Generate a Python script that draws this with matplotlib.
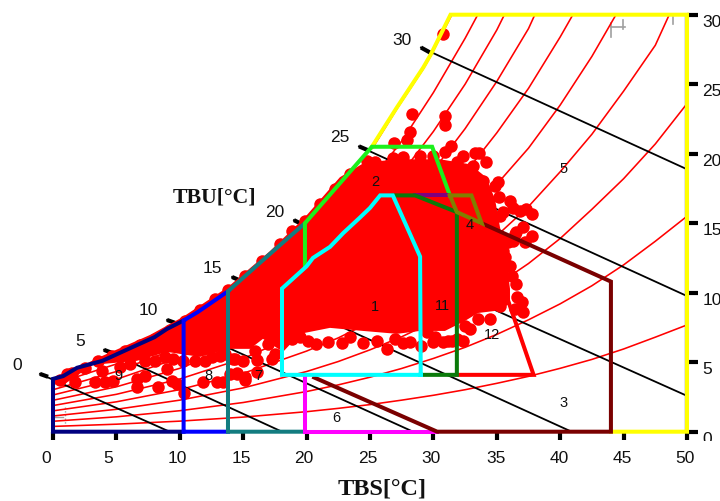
import matplotlib
matplotlib.use("Agg")
import matplotlib.pyplot as plt
from matplotlib.patches import Polygon
from matplotlib.transforms import ScaledTranslation, Bbox

plt.rcParams['font.family'] = ['Liberation Sans', 'DejaVu Sans']

# ---- humidity curves: dry-bulb temperature -> humidity ratio
t_grid = [0, 5, 10, 15, 20, 22.5, 25, 27.5, 30, 32.5, 35, 37.5, 40, 42.5, 45, 47.5, 50]
rh10 = [.38, .54, .76, 1.05, 1.44, 1.68, 1.95, 2.27, 2.62, 3.02, 3.48, 3.98, 4.56, 5.2, 5.95, 6.8, 7.68]
rh20 = [.75, 1.07, 1.51, 2.1, 2.89, 3.37, 3.92, 4.55, 5.27, 6.07, 7.0, 8.05, 9.2, 10.5, 12.0, 13.7, 15.5]
rh30 = [1.13, 1.61, 2.27, 3.15, 4.33, 5.05, 5.89, 6.83, 7.92, 9.15, 10.55, 12.1, 13.9, 16.0, 18.2, 20.7, 23.6]
rh40_t = [0, 5, 10, 15, 20, 22.5, 25, 27.5, 30, 32.5, 35, 37.5, 40, 42.5, 45, 47.5, 48.6]
rh40 = [1.5, 2.15, 3.03, 4.2, 5.8, 6.75, 7.88, 9.15, 10.6, 12.2, 14.1, 16.2, 18.7, 21.4, 24.5, 27.8, 30]
rh50_t = [0, 5, 10, 15, 20, 22.5, 25, 27.5, 30, 32.5, 35, 37.5, 40, 42.5, 44.4]
rh50 = [1.88, 2.69, 3.79, 5.27, 7.27, 8.47, 9.88, 11.45, 13.3, 15.4, 17.8, 20.4, 23.5, 27.0, 30]
rh60_t = [0, 5, 10, 15, 20, 22.5, 25, 27.5, 30, 32.5, 35, 37.5, 40, 41]
rh60 = [2.26, 3.23, 4.56, 6.35, 8.75, 10.2, 11.9, 13.8, 16.1, 18.6, 21.5, 24.7, 28.4, 30]
rh70_t = [0, 5, 10, 15, 20, 22.5, 25, 27.5, 30, 32.5, 35, 37.5, 38]
rh70 = [2.64, 3.77, 5.33, 7.41, 10.2, 11.9, 13.9, 16.2, 18.8, 21.8, 25.2, 29, 30]
rh80_t = [0, 5, 10, 15, 20, 22.5, 25, 27.5, 30, 32.5, 35, 35.6]
rh80 = [3.02, 4.33, 6.08, 8.49, 11.7, 13.7, 16.0, 18.6, 21.6, 25.0, 28.9, 30]
rh90_t = [0, 5, 10, 15, 20, 22.5, 25, 27.5, 30, 32.5, 33.5]
rh90 = [3.4, 4.87, 6.86, 9.56, 13.2, 15.4, 18.0, 20.9, 24.4, 28.3, 30]
sat_t = [25.2, 27.1, 29.2, 29.8, 31.4]
sat_w = [20.4, 23.2, 26.1, 27.05, 29.9]

# ---- wet-bulb lines: label, start, end of thick tick, end
wb_labels = [0, 5, 10, 15, 20, 25, 30]
wb_start_x = [-1.03, 4.02, 8.99, 14.12, 19.0, 24.13, 29.02]
wb_start_y = [4.16, 5.89, 8.04, 11.13, 15.22, 20.53, 27.64]
wb_tick_x = [-0.39, 4.65, 9.62, 14.67, 19.63, 24.84, 29.73]
wb_tick_y = [3.95, 5.67, 7.83, 10.91, 14.93, 20.25, 27.28]
wb_end_x = [9.2, 18.06, 28.4, 40.9, 50, 50, 50]
wb_end_y = [0, 0, 0, 0, 2.58, 9.76, 18.88]
wb_label_x = [-2.84, 2.13, 7.49, 12.54, 17.5, 22.63, 27.52]
wb_label_y = [4.81, 6.53, 8.76, 11.84, 15.86, 21.25, 28.2]

# ---- hourly observations
mass_x = [0, 3.71, 7.65, 10.25, 13.8, 17.11, 19.87, 22.63, 24.6, 27.36, 30.52, 32.88, 34.15, 34.86, 35.25, 35.72,
          36.04, 36.04, 34.86, 33.52, 32.49, 30.91, 28.94, 27.13, 24.45, 21.84, 19.48, 18.14, 16.56, 15.54, 13.8,
          11.59, 8.99, 6.62, 3.15, 0.95]
mass_y = [3.73, 5.38, 6.96, 8.26, 10.41, 12.99, 15.43, 18.31, 19.38, 19.6, 19.6, 19.24, 18.31, 16.73, 14.72, 12.78,
          10.27, 9.19, 8.69, 8.54, 7.97, 7.25, 7.25, 7.04, 7.25, 7.47, 7.04, 5.74, 6.68, 5.96, 5.96,
          5.38, 5.74, 5.1, 4.81, 3.45]
obs_x = [30.76, 28.31, 30.91, 30.91, 28.15, 27.92, 26.89, 31.39, 30.91, 29.97, 33.28, 33.59, 34.15, 32.33, 28.94,
         35.09, 34.86, 35.17, 36.04, 36.28, 36.83, 37.3, 37.77, 33.91, 33.12, 31.86, 37.06, 36.51, 37.77, 37.22,
         35.88, 35.25, 35.49, 36.43, 36.28, 35.49, 35.49, 35.64, 36.04, 36.2, 36.51, 36.59, 36.99, 37.06, 36.43,
         35.25, 34.46, 33.52, 32.49, 31.86, 31.15, 29.97, 29.49, 32.33, 31.47, 30.75, 29.02, 28.15, 27.6, 26.34,
         25.55, 24.45, 22.79, 21.69, 20.74, 20.11, 17.27, 16.09, 14.35, 14.51, 15.14, 16.09, 15.14, 14.51, 13.96,
         13.41, 12.93, 11.83, 10.33, 9.78, 9.38, 8.99, 8.28, 7.25, 6.62, 6.62, 4.73, 4.1, 3.31, 3.86, 1.73, 1.1,
         8.04, 7.25, 9.46, 10.25, 11.2, 12.54, 13.17, 14.19, 14.98,
         0.55, 1.5, 2.52, 3.55, 4.65, 5.68, 6.86, 8.04, 9.23, 10.41, 11.59, 12.78, 13.8, 15.14, 16.48, 17.9, 18.85,
         19.87, 21.06, 22.24, 23.42, 24.76, 25.39, 26.81, 27.6,
         5.28, 6.07, 8.83, 11.99, 13.56, 18.85, 19.48, 23.42, 26.97, 30.12, 32.88, 15.93, 16.96, 17.5]
obs_y = [28.64, 22.83, 22.69, 22.04, 21.54, 20.96, 20.75, 20.53, 20.1, 19.81, 20.03, 20.03, 19.38, 19.81, 19.81,
         17.95, 17.66, 16.87, 16.58, 16.08, 15.87, 16.01, 15.65, 18.02, 19.1, 19.38, 14.72, 14.36, 14.07, 13.64,
         13.64, 15.51, 15.79, 14.21, 13.71, 13.86, 12.99, 12.56, 11.92, 11.2, 10.63, 9.69, 9.33, 8.61, 8.83,
         9.05, 8.11, 8.11, 7.61, 6.68, 6.53, 6.46, 7.18, 6.53, 6.53, 6.46, 6.17, 6.46, 6.39, 5.96,
         6.53, 6.39, 6.39, 6.46, 6.32, 6.53, 5.24, 5.17, 5.24, 4.16, 3.95, 4.31, 3.73, 4.24, 4.16,
         3.59, 3.59, 3.59, 2.8, 3.45, 3.66, 4.52, 3.23, 4.02, 3.8, 3.23, 3.66, 3.59, 3.59, 4.38, 3.59, 4.16,
         5.1, 5.1, 5.24, 5.1, 5.1, 5.38, 5.46, 5.24, 5.1,
         3.73, 4.24, 4.59, 5.1, 5.46, 5.82, 6.25, 6.68, 7.32, 7.97, 8.76, 9.55, 10.19, 11.2, 12.28, 13.5, 14.43,
         15.15, 16.37, 17.45, 18.52, 19.46, 19.38, 19.67, 19.74,
         4.67, 4.88, 5.38, 5.1, 5.6, 6.68, 6.82, 6.82, 6.68, 6.82, 7.39, 5.82, 6.32, 5.6]

# ---- zone outlines
z5_x = [44, 50, 50, 31.35, 29.8, 29.2, 27.1, 25.15]
z5_y = [0, 0, 30, 30, 27.15, 26.2, 23.3, 20.5]
z9_x = [10.3, 0, 0, 0.8, 1.9, 3.9, 6.3, 8.0, 9.0, 10.3]
z9_y = [0, 0, 3.8, 4.0, 4.6, 5.1, 6.1, 6.8, 7.4, 8.0]
z8_x = [13.8, 10.3, 10.3, 11.4, 13.8]
z8_y = [0, 0, 8.0, 8.6, 10.1]
z7_x = [19.87, 13.8, 13.8, 17.0, 19.87]
z7_y = [0, 0, 10.1, 12.7, 15.0]
z6_x = [30.3, 19.87, 19.87]
z6_y = [0, 0, 4.0]
z3_x = [20.6, 30.3, 44, 44, 33.8]
z3_y = [3.9, 0, 0, 10.8, 15.0]
z2_x = [19.87, 19.87, 25.15, 29.9, 31.3]
z2_y = [11.9, 15.0, 20.5, 20.5, 17.0]
z12_x = [31.85, 37.9, 33.8]
z12_y = [4.09, 4.09, 15.0]
z11_x = [29.0, 31.85, 31.85, 28.55, 26.8]
z11_y = [4.09, 4.09, 15.8, 17.0, 17.0]
z4a_x = [28.55, 31.3]
z4a_y = [17.0, 17.0]
z4b_x = [31.3, 33.0, 33.8, 31.85, 31.3]
z4b_y = [17.0, 17.0, 15.0, 15.8, 17.0]
z1_x = [29.0, 18.06, 18.06, 20.0, 20.5, 21.85, 22.9, 24.2, 25.0, 25.8, 26.8, 28.95, 29.0]
z1_y = [4.09, 4.09, 10.3, 11.9, 12.5, 13.3, 14.3, 15.4, 16.1, 17.0, 17.0, 12.6, 4.09]

zone_labels = ['1', '11', '12', '2', '4', '5', '3', '6', '7', '8', '9']
zone_lx = [25.39, 30.68, 34.62, 25.39, 32.89, 40.3, 40.3, 22.32, 16.17, 12.22, 5.2]
zone_ly = [9.05, 9.12, 7.04, 18.02, 14.93, 18.95, 2.15, 1.08, 4.09, 4.09, 4.09]

xticks = [0, 5, 10, 15, 20, 25, 30, 35, 40, 45, 50]
yticks = [0, 5, 10, 15, 20, 25, 30]

# ---- faint grey remnants
grey_a_x = [44.0, 44.0]; grey_a_y = [29.4, 28.4]
grey_b_x = [44.0, 45.1]; grey_b_y = [29.1, 29.1]
grey_c_x = [44.95, 44.95]; grey_c_y = [29.65, 28.96]
grey_d_x = [48.9, 48.9]; grey_d_y = [29.8, 29.3]
grey_e_x = [0.95, 0.95]; grey_e_y = [1.8, 0.57]
grey_f_x = [0.16, 0.79]; grey_f_y = [1.08, 1.08]

W, H = 720, 502
fig = plt.figure(figsize=(W / 100, H / 100), dpi=100)
ax = fig.add_axes([53 / W, (H - 432.7) / H, 634 / W, 417 / H])
ax.set_xlim(0, 50)
ax.set_ylim(0, 30)
for s in ax.spines.values():
    s.set_visible(False)

# thin curves
for tx, wy in [(t_grid, rh10), (t_grid, rh20), (t_grid, rh30), (rh40_t, rh40), (rh50_t, rh50),
               (rh60_t, rh60), (rh70_t, rh70), (rh80_t, rh80), (rh90_t, rh90), (sat_t, sat_w)]:
    ax.plot(tx, wy, color='#ff0000', lw=1.15, zorder=2, clip_on=True)

for gx, gy in [(grey_a_x, grey_a_y), (grey_b_x, grey_b_y), (grey_c_x, grey_c_y), (grey_d_x, grey_d_y)]:
    ax.plot(gx, gy, color='#a0a0a0', lw=1.2, zorder=1)
ax.plot(grey_e_x, grey_e_y, color='#a0a0a0', lw=1.0, ls=':', zorder=1)
ax.plot(grey_f_x, grey_f_y, color='#a0a0a0', lw=1.0, zorder=1)

# wet-bulb lines
for i in range(len(wb_labels)):
    ax.plot([wb_start_x[i], wb_end_x[i]], [wb_start_y[i], wb_end_y[i]], color='black', lw=1.3, zorder=3, clip_on=False)
    ax.plot([wb_start_x[i], wb_tick_x[i]], [wb_start_y[i], wb_tick_y[i]], color='black', lw=3.0, zorder=3,
            clip_on=False, solid_capstyle='butt')
    ax.text(wb_label_x[i], wb_label_y[i], str(wb_labels[i]), fontsize=12.5, ha='center', va='center', color='#111111')

# observations
ax.add_patch(Polygon(list(zip(mass_x, mass_y)), closed=True, facecolor='#ff0000', edgecolor='none', zorder=4))
ax.plot(obs_x, obs_y, ls='none', marker='o', ms=9.0, mfc='#ff0000', mec='none', zorder=4, clip_on=False)

# right edge hairline
ax.plot([49.85, 49.85], [0, 30], color='#707070', lw=1.0, zorder=5)

# zones
zones = [(z5_x, z5_y, '#ffff00'), (z9_x, z9_y, '#000080'), (z8_x, z8_y, '#0000ff'), (z7_x, z7_y, '#137c80'),
         (z6_x, z6_y, '#ff00ff'), (z3_x, z3_y, '#7a0000'), (z2_x, z2_y, '#1cf01c'), (z12_x, z12_y, '#ff0000'),
         (z4a_x, z4a_y, '#800080'), (z11_x, z11_y, '#0a7a0a'), (z4b_x, z4b_y, '#808000'), (z1_x, z1_y, '#00ffff')]
for k, (zx, zy, c) in enumerate(zones):
    ax.plot(zx, zy, color=c, lw=2.9, zorder=6 + k * 0.1, clip_on=False, solid_joinstyle='miter', solid_capstyle='projecting')

for s, lx, ly in zip(zone_labels, zone_lx, zone_ly):
    ax.text(lx, ly, s, fontsize=10.5, ha='center', va='center', color='#111111', zorder=9)

# axes ticks
ax.set_xticks(xticks)
ax.set_xticklabels([str(v) for v in xticks], fontsize=12.5, color='#111111')
ax.yaxis.tick_right()
ax.set_yticks(yticks)
ax.set_yticklabels([str(v) for v in yticks], fontsize=12.5, color='#111111', ha='left')
ax.tick_params(axis='x', length=6, width=3, pad=7, color='black')
ax.tick_params(axis='y', length=8, width=3, pad=3, color='black')
for lab in ax.get_yticklabels():
    lab.set_transform(lab.get_transform() + ScaledTranslation(0, -5 / 100, fig.dpi_scale_trans))
    if lab.get_text() == '0':
        lab.set_clip_on(True)
        lab.set_clip_box(Bbox([[690, H - 442], [W, H - 425]]))
shift = {'0': -7, '5': -8, '10': -2, '15': -2, '20': -3, '25': -2, '30': -2, '35': -1, '40': -1, '45': -1, '50': -2}
for lab in ax.get_xticklabels():
    lab.set_transform(lab.get_transform() + ScaledTranslation(shift[lab.get_text()] / 100, 0, fig.dpi_scale_trans))

serif = ['Liberation Serif', 'DejaVu Serif']
fig.text(382 / W, 1 - 489 / H, 'TBS[°C]', family=serif, fontweight='bold', fontsize=17.5, ha='center', va='center', color='#111111')
fig.text(214.5 / W, 1 - 198 / H, 'TBU[°C]', family=serif, fontweight='bold', fontsize=15.7, ha='center', va='center', color='#111111')

fig.savefig('out.png', dpi=100)
